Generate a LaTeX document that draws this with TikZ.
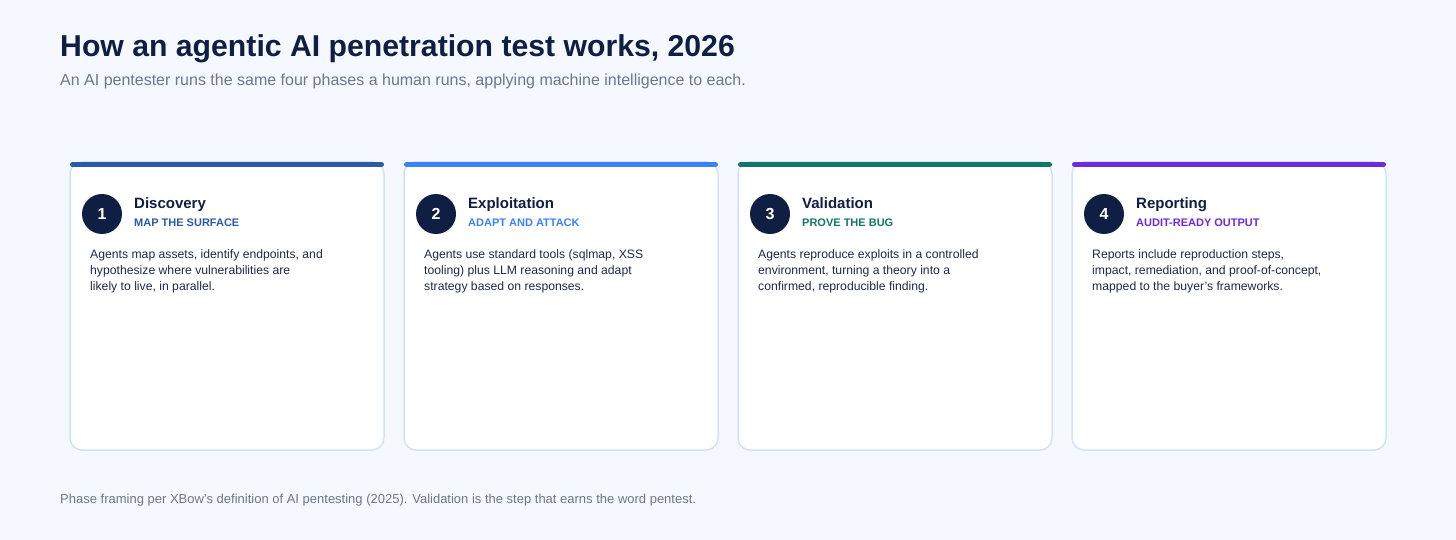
\documentclass[tikz,border=0pt]{standalone}
\usepackage{fontspec}
\setmainfont{Liberation Sans}
\definecolor{pagebg}{HTML}{F5F9FF}
\definecolor{cardline}{HTML}{D3E2FB}
\definecolor{ink}{HTML}{0F1F44}
\definecolor{bodyink}{HTML}{1E2B45}
\definecolor{subgray}{HTML}{6B7890}
\definecolor{footgray}{HTML}{6E7787}
\definecolor{barone}{HTML}{2C5AA8}
\definecolor{bartwo}{HTML}{3B82F6}
\definecolor{barthree}{HTML}{12776A}
\definecolor{barfour}{HTML}{6D2ADF}
\usetikzlibrary{positioning}

\begin{document}
\begin{tikzpicture}[x=1pt,y=-1pt,
    phasecard/.style={rectangle,rounded corners=12pt,draw=cardline,fill=white,line width=1.5pt,minimum width=314pt,minimum height=288pt,anchor=north west,outer sep=0pt},
    phasebar/.style={line width=5pt,line cap=round},
    numdot/.style={circle,fill=ink,text=white,minimum size=40pt,inner sep=0pt,font=\fontsize{16}{18}\selectfont\bfseries},
    phasetitle/.style={anchor=base west,inner sep=0pt,text=ink,font=\fontsize{15}{18}\selectfont\bfseries},
    phasetag/.style={anchor=base west,inner sep=0pt,font=\fontsize{11}{12}\selectfont\bfseries},
    phasetext/.style={anchor=base west,inner sep=0pt,align=left,text=bodyink,font=\fontsize{12.2}{15.6}\selectfont}]
  \path[use as bounding box,fill=pagebg] (0,0) rectangle (1456,540);

  % heading
  \path
  (60,57) node[anchor=base west,inner sep=0pt,text=ink,font=\fontsize{30.2}{34}\selectfont\bfseries] (title) {How an agentic AI penetration test works, 2026}
  (60,86) node[anchor=base west,inner sep=0pt,text=subgray,font=\fontsize{16}{19}\selectfont] (subtitle) {An AI pentester runs the same four phases a human runs, applying machine intelligence to each.};

  % the four phase cards
  \path
  (70,162) node[phasecard] (cardone) {}
  (404,162) node[phasecard] (cardtwo) {}
  (738,162) node[phasecard] (cardthree) {}
  (1072,162) node[phasecard] (cardfour) {};

  \draw[phasebar,draw=barone] ([shift={(2.5pt,-2.5pt)}]cardone.north west) -- ([shift={(-2.5pt,-2.5pt)}]cardone.north east);
  \draw[phasebar,draw=bartwo] ([shift={(2.5pt,-2.5pt)}]cardtwo.north west) -- ([shift={(-2.5pt,-2.5pt)}]cardtwo.north east);
  \draw[phasebar,draw=barthree] ([shift={(2.5pt,-2.5pt)}]cardthree.north west) -- ([shift={(-2.5pt,-2.5pt)}]cardthree.north east);
  \draw[phasebar,draw=barfour] ([shift={(2.5pt,-2.5pt)}]cardfour.north west) -- ([shift={(-2.5pt,-2.5pt)}]cardfour.north east);

  % text is anchored on the baseline of its last line
  \path
  (102,214) node[numdot] (dotone) {1}
  (134,208) node[phasetitle] (titleone) {Discovery}
  (134,226) node[phasetag,text=barone] (tagone) {MAP THE SURFACE}
  (90,290) node[phasetext] (textone) {Agents map assets, identify endpoints, and\\hypothesize where vulnerabilities are\\likely to live, in parallel.}

  (436,214) node[numdot] (dottwo) {2}
  (468,208) node[phasetitle] (titletwo) {Exploitation}
  (468,226) node[phasetag,text=bartwo] (tagtwo) {ADAPT AND ATTACK}
  (424,290) node[phasetext] (texttwo) {Agents use standard tools (sqlmap, XSS\\tooling) plus LLM reasoning and adapt\\strategy based on responses.}

  (770,214) node[numdot] (dotthree) {3}
  (802,208) node[phasetitle] (titlethree) {Validation}
  (802,226) node[phasetag,text=barthree] (tagthree) {PROVE THE BUG}
  (758,290) node[phasetext] (textthree) {Agents reproduce exploits in a controlled\\environment, turning a theory into a\\confirmed, reproducible finding.}

  (1104,214) node[numdot] (dotfour) {4}
  (1136,208) node[phasetitle] (titlefour) {Reporting}
  (1136,226) node[phasetag,text=barfour] (tagfour) {AUDIT-READY OUTPUT}
  (1092,290) node[phasetext] (textfour) {Reports include reproduction steps,\\impact, remediation, and proof-of-concept,\\mapped to the buyer's frameworks.};

  % source line
  \path (60,503) node[anchor=base west,inner sep=0pt,text=footgray,font=\fontsize{13}{15}\selectfont] (footnote) {Phase framing per XBow's definition of AI pentesting (2025). Validation is the step that earns the word pentest.};
\end{tikzpicture}
\end{document}
